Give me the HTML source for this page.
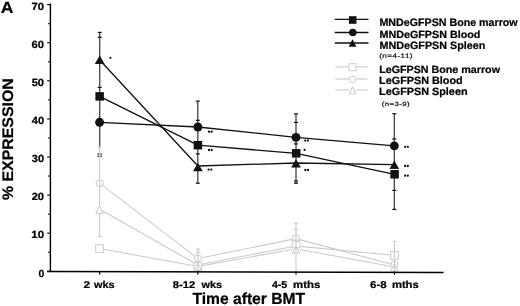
<!DOCTYPE html>
<html><head><meta charset="utf-8"><title>Expression chart</title>
<style>
html,body{margin:0;padding:0;background:#fff;}
body{width:520px;height:306px;overflow:hidden;}
svg{display:block;font-family:"Liberation Sans", sans-serif;}
text{text-rendering:geometricPrecision;}
</style></head>
<body>
<svg width="520" height="306" viewBox="0 0 520 306" style="will-change:transform">
<rect width="520" height="306" fill="#fff"/>
<line x1="102.82" y1="185.58" x2="194.73" y2="256.07" stroke="#cbcbcb" stroke-width="1.1"/>
<line x1="103.08" y1="211.27" x2="194.42" y2="263.03" stroke="#cbcbcb" stroke-width="1.1"/>
<line x1="103.44" y1="249.32" x2="193.96" y2="265.78" stroke="#cbcbcb" stroke-width="1.1"/>
<line x1="201.82" y1="257.70" x2="292.08" y2="239.40" stroke="#cbcbcb" stroke-width="1.1"/>
<line x1="201.83" y1="264.24" x2="292.07" y2="246.76" stroke="#cbcbcb" stroke-width="1.1"/>
<line x1="201.84" y1="265.79" x2="292.06" y2="249.51" stroke="#cbcbcb" stroke-width="1.1"/>
<line x1="299.86" y1="239.64" x2="390.64" y2="263.96" stroke="#cbcbcb" stroke-width="1.1"/>
<line x1="299.98" y1="246.38" x2="390.52" y2="255.02" stroke="#cbcbcb" stroke-width="1.1"/>
<line x1="299.93" y1="249.53" x2="390.57" y2="266.27" stroke="#cbcbcb" stroke-width="1.1"/>
<rect x="95.65" y="244.75" width="7.70" height="7.70" fill="none" stroke="#cbcbcb" stroke-width="1.0"/>
<rect x="194.05" y="262.45" width="7.70" height="7.70" fill="none" stroke="#cbcbcb" stroke-width="1.0"/>
<rect x="292.15" y="240.15" width="7.70" height="7.70" fill="none" stroke="#cbcbcb" stroke-width="1.0"/>
<rect x="390.65" y="251.55" width="7.70" height="7.70" fill="none" stroke="#cbcbcb" stroke-width="1.0"/>
<polygon points="99.60,205.70 103.40,213.20 95.80,213.20" fill="none" stroke="#cbcbcb" stroke-width="1.0" stroke-linejoin="miter"/>
<polygon points="197.90,263.00 201.70,270.50 194.10,270.50" fill="none" stroke="#cbcbcb" stroke-width="1.0" stroke-linejoin="miter"/>
<polygon points="296.00,245.70 299.80,253.20 292.20,253.20" fill="none" stroke="#cbcbcb" stroke-width="1.0" stroke-linejoin="miter"/>
<polygon points="394.50,263.40 398.30,270.90 390.70,270.90" fill="none" stroke="#cbcbcb" stroke-width="1.0" stroke-linejoin="miter"/>
<circle cx="99.65" cy="183.15" r="3.55" fill="none" stroke="#cbcbcb" stroke-width="1.0"/>
<circle cx="197.90" cy="258.40" r="3.55" fill="none" stroke="#cbcbcb" stroke-width="1.0"/>
<circle cx="296.00" cy="238.30" r="3.55" fill="none" stroke="#cbcbcb" stroke-width="1.0"/>
<circle cx="394.50" cy="264.50" r="3.55" fill="none" stroke="#cbcbcb" stroke-width="1.0"/>
<line x1="99.60" y1="146.50" x2="99.60" y2="205.20" stroke="#cbcbcb" stroke-width="1.1"/>
<line x1="99.60" y1="213.40" x2="99.60" y2="236.40" stroke="#cbcbcb" stroke-width="1.1"/>
<line x1="97.60" y1="148.00" x2="101.60" y2="148.00" stroke="#cbcbcb" stroke-width="1.2"/>
<line x1="97.60" y1="236.40" x2="101.60" y2="236.40" stroke="#cbcbcb" stroke-width="1.2"/>
<line x1="197.90" y1="249.10" x2="197.90" y2="271.00" stroke="#cbcbcb" stroke-width="1.1"/>
<line x1="195.90" y1="249.10" x2="199.90" y2="249.10" stroke="#cbcbcb" stroke-width="1.2"/>
<line x1="195.90" y1="252.10" x2="199.90" y2="252.10" stroke="#cbcbcb" stroke-width="1.2"/>
<line x1="296.00" y1="222.90" x2="296.00" y2="271.00" stroke="#cbcbcb" stroke-width="1.1"/>
<line x1="294.00" y1="222.90" x2="298.00" y2="222.90" stroke="#cbcbcb" stroke-width="1.2"/>
<line x1="294.00" y1="229.40" x2="298.00" y2="229.40" stroke="#cbcbcb" stroke-width="1.2"/>
<line x1="394.50" y1="241.30" x2="394.50" y2="271.00" stroke="#cbcbcb" stroke-width="1.1"/>
<line x1="392.50" y1="241.30" x2="396.50" y2="241.30" stroke="#cbcbcb" stroke-width="1.2"/>
<line x1="99.70" y1="32.40" x2="99.70" y2="146.50" stroke="#444" stroke-width="1.3"/>
<line x1="97.70" y1="32.40" x2="101.70" y2="32.40" stroke="#111" stroke-width="1.2"/>
<line x1="97.70" y1="37.30" x2="101.70" y2="37.30" stroke="#111" stroke-width="1.2"/>
<line x1="97.70" y1="87.40" x2="101.70" y2="87.40" stroke="#111" stroke-width="1.2"/>
<rect x="97.4" y="153.4" width="1.5" height="1.3" fill="#222"/>
<rect x="100.4" y="153.4" width="1.5" height="1.3" fill="#222"/>
<rect x="97.4" y="155.6" width="1.5" height="1.3" fill="#222"/>
<rect x="100.4" y="155.6" width="1.5" height="1.3" fill="#222"/>
<line x1="197.80" y1="101.10" x2="197.80" y2="183.20" stroke="#444" stroke-width="1.3"/>
<line x1="195.80" y1="101.10" x2="199.80" y2="101.10" stroke="#111" stroke-width="1.2"/>
<line x1="195.80" y1="120.30" x2="199.80" y2="120.30" stroke="#111" stroke-width="1.2"/>
<line x1="195.80" y1="153.90" x2="199.80" y2="153.90" stroke="#111" stroke-width="1.2"/>
<line x1="195.80" y1="183.20" x2="199.80" y2="183.20" stroke="#111" stroke-width="1.2"/>
<line x1="296.00" y1="113.90" x2="296.00" y2="183.20" stroke="#444" stroke-width="1.3"/>
<line x1="294.00" y1="113.90" x2="298.00" y2="113.90" stroke="#111" stroke-width="1.2"/>
<line x1="294.00" y1="122.40" x2="298.00" y2="122.40" stroke="#111" stroke-width="1.2"/>
<line x1="294.00" y1="143.90" x2="298.00" y2="143.90" stroke="#111" stroke-width="1.2"/>
<line x1="294.00" y1="181.00" x2="298.00" y2="181.00" stroke="#111" stroke-width="1.2"/>
<line x1="294.00" y1="183.20" x2="298.00" y2="183.20" stroke="#111" stroke-width="1.2"/>
<line x1="394.30" y1="113.70" x2="394.30" y2="209.40" stroke="#444" stroke-width="1.3"/>
<line x1="392.30" y1="113.70" x2="396.30" y2="113.70" stroke="#111" stroke-width="1.2"/>
<line x1="392.30" y1="138.90" x2="396.30" y2="138.90" stroke="#111" stroke-width="1.2"/>
<line x1="392.30" y1="190.40" x2="396.30" y2="190.40" stroke="#111" stroke-width="1.2"/>
<line x1="392.30" y1="209.40" x2="396.30" y2="209.40" stroke="#111" stroke-width="1.2"/>
<polyline points="99.6,122.3 197.9,127.0 296.0,137.4 394.3,145.9" fill="none" stroke="#111" stroke-width="1.3" stroke-linejoin="round"/>
<polyline points="99.7,96.4 197.9,145.2 296.2,153.3 394.6,174.3" fill="none" stroke="#111" stroke-width="1.3" stroke-linejoin="round"/>
<polyline points="99.7,60.0 197.9,166.0 296.0,163.0 394.3,164.6" fill="none" stroke="#111" stroke-width="1.3" stroke-linejoin="round"/>
<rect x="95.40" y="92.15" width="8.50" height="8.50" fill="#111"/>
<rect x="193.65" y="140.95" width="8.50" height="8.50" fill="#111"/>
<rect x="291.95" y="149.05" width="8.50" height="8.50" fill="#111"/>
<rect x="390.35" y="170.05" width="8.50" height="8.50" fill="#111"/>
<circle cx="99.60" cy="122.30" r="4.45" fill="#111"/>
<circle cx="197.90" cy="127.00" r="4.45" fill="#111"/>
<circle cx="296.00" cy="137.40" r="4.45" fill="#111"/>
<circle cx="394.30" cy="145.90" r="4.45" fill="#111"/>
<polygon points="99.70,55.50 104.60,63.90 94.80,63.90" fill="#111"/>
<polygon points="197.90,162.90 202.80,171.30 193.00,171.30" fill="#111"/>
<polygon points="296.00,159.20 300.90,167.60 291.10,167.60" fill="#111"/>
<polygon points="394.30,160.60 399.20,169.00 389.40,169.00" fill="#111"/>
<line x1="390.00" y1="169.40" x2="398.80" y2="169.40" stroke="#fff" stroke-width="0.9"/>
<circle cx="110.4" cy="57.8" r="1.1" fill="#111"/>
<circle cx="209.00" cy="131.70" r="1.15" fill="#111"/>
<circle cx="211.70" cy="131.70" r="1.15" fill="#111"/>
<circle cx="209.00" cy="150.00" r="1.15" fill="#111"/>
<circle cx="211.70" cy="150.00" r="1.15" fill="#111"/>
<circle cx="208.60" cy="169.60" r="1.15" fill="#111"/>
<circle cx="211.30" cy="169.60" r="1.15" fill="#111"/>
<circle cx="305.30" cy="140.60" r="1.15" fill="#111"/>
<circle cx="308.00" cy="140.60" r="1.15" fill="#111"/>
<circle cx="305.30" cy="170.00" r="1.15" fill="#111"/>
<circle cx="308.00" cy="170.00" r="1.15" fill="#111"/>
<circle cx="304.6" cy="149.9" r="1.15" fill="#111"/>
<circle cx="405.10" cy="146.80" r="1.15" fill="#111"/>
<circle cx="407.80" cy="146.80" r="1.15" fill="#111"/>
<circle cx="405.10" cy="166.00" r="1.15" fill="#111"/>
<circle cx="407.80" cy="166.00" r="1.15" fill="#111"/>
<circle cx="405.10" cy="175.70" r="1.15" fill="#111"/>
<circle cx="407.80" cy="175.70" r="1.15" fill="#111"/>
<line x1="50.40" y1="3.60" x2="50.40" y2="272.00" stroke="#000" stroke-width="1.4"/>
<line x1="47.2" y1="271.55" x2="443.6" y2="272.45" stroke="#000" stroke-width="1.5"/>
<line x1="47.20" y1="4.60" x2="50.20" y2="4.60" stroke="#111" stroke-width="1.2"/>
<line x1="47.20" y1="42.70" x2="50.20" y2="42.70" stroke="#111" stroke-width="1.2"/>
<line x1="47.20" y1="80.80" x2="50.20" y2="80.80" stroke="#111" stroke-width="1.2"/>
<line x1="47.20" y1="118.90" x2="50.20" y2="118.90" stroke="#111" stroke-width="1.2"/>
<line x1="47.20" y1="157.00" x2="50.20" y2="157.00" stroke="#111" stroke-width="1.2"/>
<line x1="47.20" y1="195.10" x2="50.20" y2="195.10" stroke="#111" stroke-width="1.2"/>
<line x1="47.20" y1="233.20" x2="50.20" y2="233.20" stroke="#111" stroke-width="1.2"/>
<line x1="47.20" y1="271.30" x2="50.20" y2="271.30" stroke="#111" stroke-width="1.2"/>
<line x1="48.00" y1="23.65" x2="50.20" y2="23.65" stroke="#111" stroke-width="1.1"/>
<line x1="48.00" y1="61.75" x2="50.20" y2="61.75" stroke="#111" stroke-width="1.1"/>
<line x1="48.00" y1="99.85" x2="50.20" y2="99.85" stroke="#111" stroke-width="1.1"/>
<line x1="48.00" y1="137.95" x2="50.20" y2="137.95" stroke="#111" stroke-width="1.1"/>
<line x1="48.00" y1="176.05" x2="50.20" y2="176.05" stroke="#111" stroke-width="1.1"/>
<line x1="48.00" y1="214.15" x2="50.20" y2="214.15" stroke="#111" stroke-width="1.1"/>
<line x1="48.00" y1="252.25" x2="50.20" y2="252.25" stroke="#111" stroke-width="1.1"/>
<line x1="99.60" y1="271.50" x2="99.60" y2="274.60" stroke="#111" stroke-width="1.3"/>
<line x1="197.80" y1="271.50" x2="197.80" y2="274.60" stroke="#111" stroke-width="1.3"/>
<line x1="296.00" y1="271.50" x2="296.00" y2="274.60" stroke="#111" stroke-width="1.3"/>
<line x1="394.40" y1="271.50" x2="394.40" y2="274.60" stroke="#111" stroke-width="1.3"/>
<text x="31.55" y="9.60" font-size="10.42" font-weight="bold" fill="#000" stroke="#000" stroke-width="0.22" textLength="12.53" lengthAdjust="spacingAndGlyphs">70</text>
<text x="31.55" y="47.70" font-size="10.42" font-weight="bold" fill="#000" stroke="#000" stroke-width="0.22" textLength="12.53" lengthAdjust="spacingAndGlyphs">60</text>
<text x="31.67" y="85.80" font-size="10.42" font-weight="bold" fill="#000" stroke="#000" stroke-width="0.22" textLength="12.41" lengthAdjust="spacingAndGlyphs">50</text>
<text x="31.78" y="123.90" font-size="10.42" font-weight="bold" fill="#000" stroke="#000" stroke-width="0.22" textLength="12.29" lengthAdjust="spacingAndGlyphs">40</text>
<text x="31.78" y="162.00" font-size="10.42" font-weight="bold" fill="#000" stroke="#000" stroke-width="0.22" textLength="12.29" lengthAdjust="spacingAndGlyphs">30</text>
<text x="31.67" y="200.10" font-size="10.42" font-weight="bold" fill="#000" stroke="#000" stroke-width="0.22" textLength="12.41" lengthAdjust="spacingAndGlyphs">20</text>
<text x="31.31" y="238.20" font-size="10.42" font-weight="bold" fill="#000" stroke="#000" stroke-width="0.22" textLength="12.78" lengthAdjust="spacingAndGlyphs">10</text>
<text x="38.58" y="276.60" font-size="10.28" font-weight="bold" fill="#000" stroke="#000" stroke-width="0.22" textLength="5.80" lengthAdjust="spacingAndGlyphs">0</text>
<text x="83.64" y="287.90" font-size="9.86" font-weight="bold" fill="#000" stroke="#000" stroke-width="0.22" textLength="6.58" lengthAdjust="spacingAndGlyphs">2</text>
<text x="94.00" y="287.90" font-size="9.86" font-weight="bold" fill="#000" stroke="#000" stroke-width="0.22" textLength="20.64" lengthAdjust="spacingAndGlyphs">wks</text>
<text x="172.86" y="288.00" font-size="9.86" font-weight="bold" fill="#000" stroke="#000" stroke-width="0.22" textLength="22.40" lengthAdjust="spacingAndGlyphs">8-12</text>
<text x="201.50" y="288.00" font-size="10.00" font-weight="bold" fill="#000" stroke="#000" stroke-width="0.22" textLength="20.64" lengthAdjust="spacingAndGlyphs">wks</text>
<text x="271.99" y="288.10" font-size="10.00" font-weight="bold" fill="#000" stroke="#000" stroke-width="0.22" textLength="15.18" lengthAdjust="spacingAndGlyphs">4-5</text>
<text x="293.00" y="288.10" font-size="10.14" font-weight="bold" fill="#000" stroke="#000" stroke-width="0.22" textLength="27.25" lengthAdjust="spacingAndGlyphs">mths</text>
<text x="370.04" y="288.10" font-size="10.00" font-weight="bold" fill="#000" stroke="#000" stroke-width="0.22" textLength="16.55" lengthAdjust="spacingAndGlyphs">6-8</text>
<text x="391.91" y="288.10" font-size="10.14" font-weight="bold" fill="#000" stroke="#000" stroke-width="0.22" textLength="26.83" lengthAdjust="spacingAndGlyphs">mths</text>
<text x="192.44" y="303.50" font-size="16.00" font-weight="bold" fill="#000" stroke="#000" stroke-width="0.22" textLength="112.64" lengthAdjust="spacingAndGlyphs">Time after BMT</text>
<text transform="translate(12.90,199.60) rotate(-90)" x="-0.48" y="0.00" font-size="15.29" font-weight="bold" fill="#000" stroke="#000" stroke-width="0.22" textLength="121.87" lengthAdjust="spacingAndGlyphs">% EXPRESSION</text>
<text x="0.77" y="12.50" font-size="16.38" font-weight="bold" fill="#000" stroke="#000" stroke-width="0.22" textLength="12.69" lengthAdjust="spacingAndGlyphs">A</text>
<line x1="334.80" y1="19.40" x2="368.50" y2="19.40" stroke="#111" stroke-width="1.3"/>
<rect x="348.90" y="16.20" width="7.60" height="7.60" fill="#111"/>
<line x1="334.80" y1="32.50" x2="368.50" y2="32.50" stroke="#111" stroke-width="1.3"/>
<circle cx="352.80" cy="32.50" r="3.80" fill="#111"/>
<line x1="334.80" y1="43.00" x2="368.50" y2="43.00" stroke="#111" stroke-width="1.3"/>
<polygon points="352.50,39.15 356.40,46.85 348.60,46.85" fill="#111"/>
<text x="379.45" y="25.50" font-size="10.86" font-weight="bold" fill="#000" stroke="#000" stroke-width="0.22" textLength="138.21" lengthAdjust="spacingAndGlyphs">MNDeGFPSN Bone marrow</text>
<text x="379.45" y="37.80" font-size="10.43" font-weight="bold" fill="#000" stroke="#000" stroke-width="0.22" textLength="100.99" lengthAdjust="spacingAndGlyphs">MNDeGFPSN Blood</text>
<text x="379.45" y="48.50" font-size="10.71" font-weight="bold" fill="#000" stroke="#000" stroke-width="0.22" textLength="105.85" lengthAdjust="spacingAndGlyphs">MNDeGFPSN Spleen</text>
<g transform="translate(379.70,58.00) scale(1.25,1)"><text x="-0.39" y="0" font-size="6.43" font-weight="normal" fill="#111" stroke="#111" stroke-width="0.2" textLength="26.63" lengthAdjust="spacing">(n=4-11)</text></g>
<line x1="335.40" y1="66.90" x2="348.60" y2="66.90" stroke="#cbcbcb" stroke-width="1.1"/>
<line x1="356.60" y1="66.90" x2="367.50" y2="66.90" stroke="#cbcbcb" stroke-width="1.1"/>
<rect x="349.10" y="63.70" width="7.00" height="7.00" fill="none" stroke="#cbcbcb" stroke-width="1.0"/>
<line x1="335.40" y1="79.00" x2="349.00" y2="79.00" stroke="#cbcbcb" stroke-width="1.1"/>
<line x1="356.40" y1="79.00" x2="367.50" y2="79.00" stroke="#cbcbcb" stroke-width="1.1"/>
<circle cx="352.70" cy="79.30" r="3.20" fill="none" stroke="#cbcbcb" stroke-width="1.0"/>
<line x1="335.40" y1="90.00" x2="348.80" y2="90.00" stroke="#cbcbcb" stroke-width="1.1"/>
<line x1="356.40" y1="90.00" x2="367.50" y2="90.00" stroke="#cbcbcb" stroke-width="1.1"/>
<polygon points="352.60,86.60 355.90,93.90 349.30,93.90" fill="none" stroke="#cbcbcb" stroke-width="1.0" stroke-linejoin="miter"/>
<text x="379.15" y="73.30" font-size="10.43" font-weight="bold" fill="#000" stroke="#000" stroke-width="0.22" textLength="120.85" lengthAdjust="spacingAndGlyphs">LeGFPSN Bone marrow</text>
<text x="379.14" y="84.30" font-size="10.57" font-weight="bold" fill="#000" stroke="#000" stroke-width="0.22" textLength="83.53" lengthAdjust="spacingAndGlyphs">LeGFPSN Blood</text>
<text x="379.14" y="95.30" font-size="10.57" font-weight="bold" fill="#000" stroke="#000" stroke-width="0.22" textLength="88.39" lengthAdjust="spacingAndGlyphs">LeGFPSN Spleen</text>
<g transform="translate(382.20,105.70) scale(1.3,1)"><text x="-0.37" y="0" font-size="6.14" font-weight="normal" fill="#111" stroke="#111" stroke-width="0.2" textLength="21.52" lengthAdjust="spacing">(n=3-9)</text></g>
</svg>
</body></html>
